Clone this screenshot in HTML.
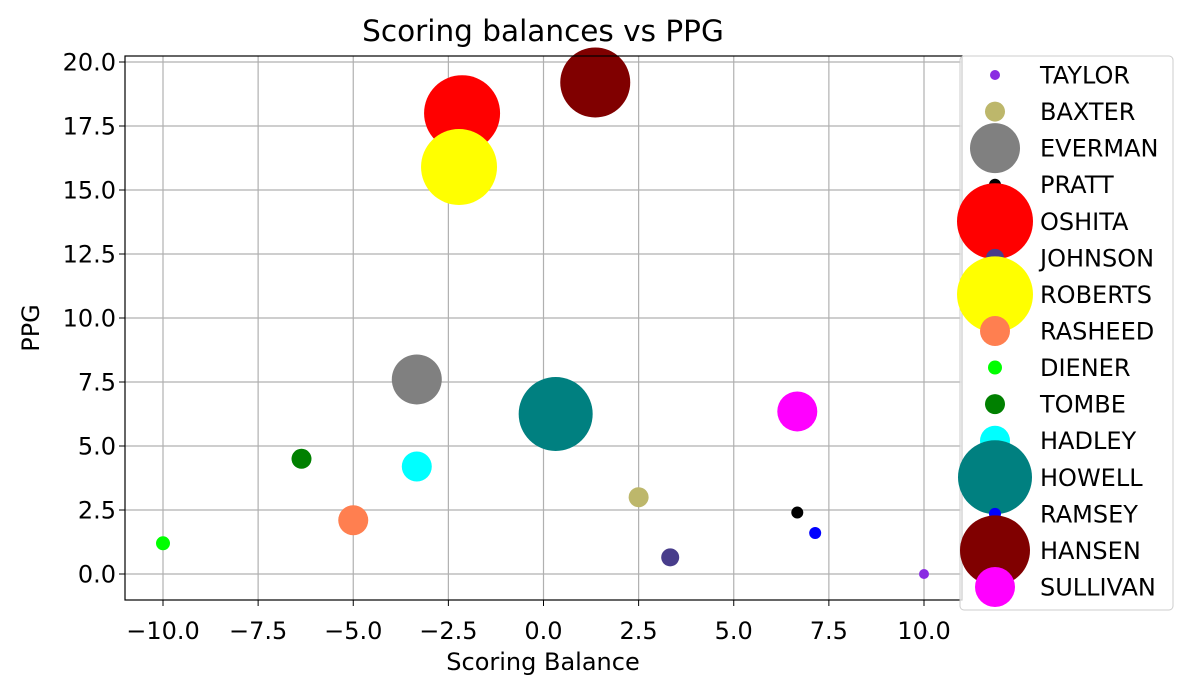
<!DOCTYPE html>
<html><head><meta charset="utf-8"><style>
body{margin:0;background:#fff;}
svg{display:block;font-family:"DejaVu Sans","Liberation Sans",sans-serif;}
</style></head><body>
<svg id="chart" width="1181" height="693" viewBox="0 0 1181 693"></svg>
<script>
const names=["TAYLOR","BAXTER","EVERMAN","PRATT","OSHITA","JOHNSON","ROBERTS","RASHEED","DIENER","TOMBE","HADLEY","HOWELL","RAMSEY","HANSEN","SULLIVAN"];
const balances=[10,2.5,-3.33,6.67,-2.14,3.33,-2.22,-5,-10,-6.36,-3.33,0.32,7.14,1.36,6.67];
const ppg=[0,3.0,7.6,2.4,18.0,0.65,15.9,2.1,1.2,4.5,4.2,6.25,1.6,19.2,6.35];
const sizes=[5,10,25,6,38,9,38,15,7,10,15,37,6,35,20];
const colors=["#8a2be2","#bdb76b","#808080","#000000","#ff0000","#483d8b","#ffff00","#ff7f50","#00ff00","#008000","#00ffff","#008080","#0000ff","#800000","#ff00ff"];
const xTicks=[-10,-7.5,-5,-2.5,0,2.5,5,7.5,10];
const yTicks=[0,2.5,5,7.5,10,12.5,15,17.5,20];
const NS="http://www.w3.org/2000/svg";
const svg=document.getElementById('chart');
const L=125,R=962,T=56,B=600;
const xs=v=>543.5+v*38.05;
const ys=v=>574-v*25.6;
function el(t,a,p){const e=document.createElementNS(NS,t);for(const k in a)e.setAttribute(k,a[k]);(p||svg).appendChild(e);return e;}
function txt(x,y,s,anchor,size,p){const e=el('text',{x:x,y:y,'text-anchor':anchor,'font-size':size},p);e.textContent=s;return e;}
const grid=el('g',{});


xTicks.forEach(t=>{el('line',{x1:xs(t),x2:xs(t),y1:T,y2:B,stroke:'#b0b0b0','stroke-width':1.2},grid);});
yTicks.forEach(t=>{el('line',{x1:L,x2:R,y1:ys(t),y2:ys(t),stroke:'#b0b0b0','stroke-width':1.2},grid);});
const pts=el('g',{});


names.forEach((n,i)=>{const c=el('circle',{cx:xs(balances[i]),cy:ys(ppg[i]),r:sizes[i],fill:colors[i]},pts);

});
el('rect',{x:L,y:T,width:R-L,height:B-T,fill:'none',stroke:'#000','stroke-width':1.2});
const xa=el('g',{});


xTicks.forEach(t=>{el('line',{x1:xs(t),x2:xs(t),y1:B,y2:B+6,stroke:'#000'},xa);
txt(xs(t),B+39,(t<0?'\u2212'+(-t).toFixed(1):t.toFixed(1)),'middle',24,xa);});
const ya=el('g',{});


yTicks.forEach(t=>{el('line',{x1:L-6,x2:L,y1:ys(t),y2:ys(t),stroke:'#000'},ya);
txt(L-9,ys(t)+8.5,t.toFixed(1),'end',24,ya);});
const xt=txt(543,670,'Scoring Balance','middle',24);

const yt=el('text',{transform:'translate(39,328) rotate(-90)','text-anchor':'middle','font-size':24});yt.textContent='PPG';

const tt=txt(543,41,'Scoring balances vs PPG','middle',29.5);

const lg=el('g',{});


el('rect',{x:960,y:56,width:213,height:554,rx:4,fill:'#fff','fill-opacity':0.8,stroke:'#ccc'},lg);
names.forEach((n,i)=>{const y=75+i*36.57;const g=el('g',{},lg);


el('circle',{cx:995,cy:y,r:sizes[i],fill:colors[i]},g);
txt(1040,y+8.5,n,'start',24,g);});
</script>
</body></html>
